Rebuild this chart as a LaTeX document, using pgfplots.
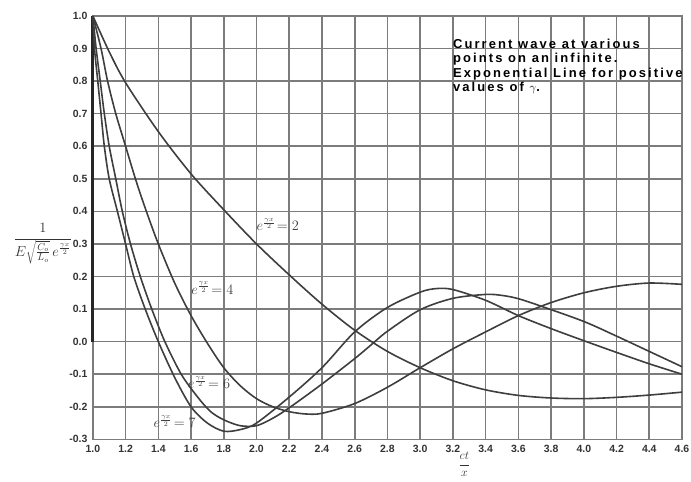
\documentclass[border=0pt]{standalone}
\usepackage{fontspec}
\setmainfont{Liberation Sans}
\usepackage{pgfplots}
\pgfplotsset{compat=1.18}
\usetikzlibrary{calc}
\definecolor{curve}{HTML}{3E3E3E}
\definecolor{gridc}{HTML}{7C7C7C}
\begin{document}
\begin{tikzpicture}
\begin{axis}[
  scale only axis, width=590pt, height=424pt,
  xmin=1, xmax=4.6, ymin=-0.3, ymax=1.0,
  xtick={1.0,1.2,1.4,1.6,1.8,2.0,2.2,2.4,2.6,2.8,3.0,3.2,3.4,3.6,3.8,4.0,4.2,4.4,4.6},
  xticklabels={1.0,1.2,1.4,1.6,1.8,2.0,2.2,2.4,2.6,2.8,3.0,3.2,3.4,3.6,3.8,4.0,4.2,4.4,4.6},
  ytick={-0.3,-0.2,-0.1,0,0.1,0.2,0.3,0.4,0.5,0.6,0.7,0.8,0.9,1.0},
  yticklabels={-0.3,-0.2,-0.1,0.0,0.1,0.2,0.3,0.4,0.5,0.6,0.7,0.8,0.9,1.0},
  grid=major,
  major grid style={draw=gridc, line width=1.6pt},
  axis line style={draw=gridc, line width=1.6pt},
  major tick length=0pt,
  ticklabel style={font=\bfseries\fontsize{10.5}{12}\selectfont, text=black!80},
  xticklabel style={yshift=-2pt},
  yticklabel style={xshift=-2pt},
  clip=false,
]
\coordinate (ll) at (rel axis cs:0,0);
\coordinate (ur) at (rel axis cs:1,1);
% thick vertical at x = 1
\addplot[black!85, line width=2.8pt] coordinates {(1,0) (1,1)};
% gamma x / 2 = 2
\addplot[curve, line width=1.6pt, smooth, tension=0.5] coordinates {
(1.0,1.0)(1.1,0.89)(1.2,0.795)(1.4,0.645)(1.6,0.515)(1.8,0.405)(2.0,0.3)(2.2,0.205)
(2.4,0.115)(2.6,0.035)(2.8,-0.03)(3.0,-0.08)(3.2,-0.12)(3.4,-0.148)(3.6,-0.165)
(3.8,-0.173)(4.0,-0.175)(4.2,-0.171)(4.4,-0.164)(4.6,-0.155)};
% = 4
\addplot[curve, line width=1.6pt, smooth, tension=0.5] coordinates {
(1.0,1.0)(1.05,0.9)(1.09,0.8)(1.14,0.7)(1.2,0.6)(1.26,0.5)(1.32,0.41)(1.4,0.3)
(1.5,0.18)(1.6,0.08)(1.7,-0.005)(1.8,-0.08)(1.9,-0.135)(2.0,-0.175)(2.1,-0.2)
(2.2,-0.215)(2.3,-0.222)(2.4,-0.22)(2.6,-0.19)(2.8,-0.14)(3.0,-0.08)(3.2,-0.022)
(3.4,0.03)(3.6,0.08)(3.8,0.12)(4.0,0.15)(4.2,0.17)(4.4,0.18)(4.6,0.176)};
% = 6
\addplot[curve, line width=1.6pt, smooth, tension=0.5] coordinates {
(1.0,1.0)(1.02,0.9)(1.045,0.8)(1.07,0.7)(1.1,0.6)(1.14,0.5)(1.18,0.4)(1.23,0.3)
(1.29,0.2)(1.36,0.1)(1.44,0.0)(1.54,-0.1)(1.64,-0.17)(1.72,-0.215)(1.8,-0.24)
(1.9,-0.258)(2.0,-0.258)(2.1,-0.235)(2.2,-0.203)(2.4,-0.13)(2.6,-0.052)(2.7,-0.01)
(2.8,0.032)(3.0,0.098)(3.2,0.133)(3.4,0.145)(3.5,0.142)(3.6,0.132)(3.75,0.107)
(4.0,0.062)(4.2,0.017)(4.4,-0.03)(4.6,-0.077)};
% = 7
\addplot[curve, line width=1.6pt, smooth, tension=0.5] coordinates {
(1.0,1.0)(1.01,0.9)(1.03,0.8)(1.05,0.7)(1.07,0.6)(1.1,0.5)(1.15,0.4)(1.2,0.3)
(1.25,0.2)(1.32,0.1)(1.4,0.0)(1.5,-0.11)(1.6,-0.2)(1.7,-0.25)(1.8,-0.275)
(1.9,-0.27)(2.0,-0.25)(2.2,-0.17)(2.4,-0.08)(2.6,0.03)(2.8,0.105)(3.0,0.152)
(3.1,0.163)(3.2,0.16)(3.4,0.127)(3.6,0.08)(3.8,0.04)(4.0,0.003)(4.2,-0.033)
(4.4,-0.068)(4.6,-0.1)};
% curve labels
\node[text=black!75, font=\Large] at (axis cs:2.13,0.36) {$e^{\frac{\gamma x}{2}}\!=2$};
\node[text=black!75, font=\Large] at (axis cs:1.73,0.165) {$e^{\frac{\gamma x}{2}}\!=4$};
\node[text=black!75, font=\Large] at (axis cs:1.71,-0.125) {$e^{\frac{\gamma x}{2}}\!=6$};
\node[text=black!75, font=\Large] at (axis cs:1.50,-0.245) {$e^{\frac{\gamma x}{2}}\!=7$};
% title box
\node[anchor=north west, align=left, text=black,
      font=\bfseries\fontsize{13}{14.5}\selectfont\addfontfeature{LetterSpace=16}]
  at (axis cs:3.18,0.94) {Current wave at various\\points on an infinite.\\Exponential Line for positive\\values of $\gamma$.};
% axis labels
\node[text=black!80, font=\Large] at (axis cs:1,0.30) [xshift=-50pt]
  {$\displaystyle\frac{1}{E\sqrt{\frac{C_o}{L_o}}\,e^{\frac{\gamma x}{2}}}$};
\node[text=black!80, font=\large] at (axis cs:3.27,-0.3) [yshift=-25pt]
  {$\displaystyle\frac{ct}{x}$};
\end{axis}
\pgfresetboundingbox
\path ($(ll)+(-93pt,-42pt)$) rectangle ($(ur)+(9pt,16pt)$);
\end{tikzpicture}
\end{document}
